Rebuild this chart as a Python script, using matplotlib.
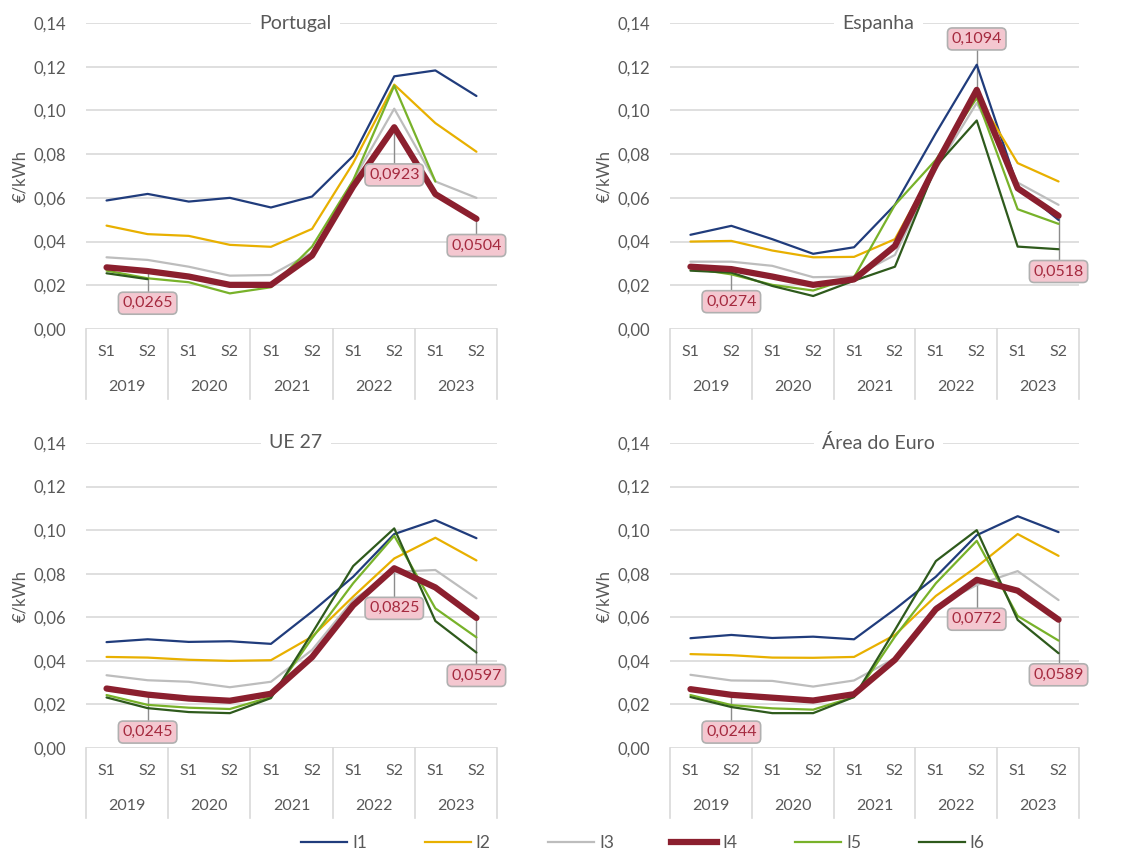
import numpy as np
import matplotlib.pyplot as plt
from matplotlib.transforms import blended_transform_factory

plt.rcParams['font.family'] = ['Lato', 'DejaVu Sans']

W, H = 1122, 851
fig = plt.figure(figsize=(W / 100, H / 100), dpi=100)

nan = np.nan
semesters = ['S1', 'S2'] * 5
years = ['2019', '2020', '2021', '2022', '2023']
series_names = ['I1', 'I2', 'I3', 'I4', 'I5', 'I6']
colors = ['#203c7c', '#e8b000', '#bdbdbd', '#8b1f2e', '#78b22a', '#2e5a1c']
widths = [1.6, 1.6, 1.6, 4.5, 1.6, 1.6]

# Portugal
pt = {
    'I1': [0.0588, 0.0618, 0.0583, 0.0600, 0.0556, 0.0606, 0.0792, 0.1156, 0.1183, 0.1066],
    'I2': [0.0473, 0.0434, 0.0426, 0.0385, 0.0376, 0.0458, 0.0759, 0.1118, 0.0942, 0.0811],
    'I3': [0.0328, 0.0316, 0.0285, 0.0244, 0.0247, 0.0350, 0.0680, 0.1008, 0.0675, 0.0600],
    'I4': [0.0282, 0.0265, 0.0240, 0.0202, 0.0202, 0.0336, 0.0652, 0.0923, 0.0617, 0.0504],
    'I5': [0.0267, 0.0232, 0.0214, 0.0163, 0.0191, 0.0377, 0.0680, 0.1113, 0.0675, nan],
    'I6': [0.0255, 0.0228, nan, nan, nan, nan, nan, nan, nan, nan],
}
# Espanha
es = {
    'I1': [0.0431, 0.0472, 0.0411, 0.0344, 0.0374, 0.0568, 0.0896, 0.1209, 0.0652, 0.0499],
    'I2': [0.0400, 0.0403, 0.0359, 0.0328, 0.0330, 0.0411, 0.0750, 0.1072, 0.0759, 0.0675],
    'I3': [0.0308, 0.0308, 0.0289, 0.0237, 0.0240, 0.0339, 0.0730, 0.1034, 0.0670, 0.0568],
    'I4': [0.0285, 0.0274, 0.0240, 0.0202, 0.0227, 0.0380, 0.0750, 0.1094, 0.0644, 0.0518],
    'I5': [0.0278, 0.0250, 0.0202, 0.0176, 0.0237, 0.0568, 0.0774, 0.1057, 0.0548, 0.0481],
    'I6': [0.0267, 0.0258, 0.0197, 0.0151, 0.0221, 0.0285, 0.0744, 0.0954, 0.0377, 0.0365],
}
# UE 27
ue = {
    'I1': [0.0486, 0.0499, 0.0487, 0.0490, 0.0478, 0.0626, 0.0786, 0.0982, 0.1046, 0.0963],
    'I2': [0.0418, 0.0415, 0.0405, 0.0400, 0.0403, 0.0511, 0.0695, 0.0870, 0.0965, 0.0861],
    'I3': [0.0334, 0.0311, 0.0304, 0.0279, 0.0304, 0.0450, 0.0680, 0.0809, 0.0817, 0.0687],
    'I4': [0.0273, 0.0245, 0.0227, 0.0217, 0.0249, 0.0417, 0.0655, 0.0825, 0.0737, 0.0597],
    'I5': [0.0243, 0.0198, 0.0185, 0.0179, 0.0234, 0.0504, 0.0756, 0.0974, 0.0641, 0.0508],
    'I6': [0.0232, 0.0183, 0.0165, 0.0160, 0.0229, 0.0527, 0.0835, 0.1008, 0.0583, 0.0438],
}
# Área do Euro
ea = {
    'I1': [0.0504, 0.0519, 0.0505, 0.0511, 0.0499, 0.0637, 0.0786, 0.0977, 0.1064, 0.0991],
    'I2': [0.0431, 0.0426, 0.0415, 0.0414, 0.0418, 0.0519, 0.0698, 0.0832, 0.0982, 0.0882],
    'I3': [0.0336, 0.0310, 0.0308, 0.0282, 0.0310, 0.0412, 0.0650, 0.0748, 0.0812, 0.0679],
    'I4': [0.0270, 0.0244, 0.0231, 0.0218, 0.0247, 0.0405, 0.0637, 0.0772, 0.0722, 0.0589],
    'I5': [0.0243, 0.0197, 0.0182, 0.0176, 0.0234, 0.0511, 0.0756, 0.0951, 0.0606, 0.0493],
    'I6': [0.0234, 0.0188, 0.0160, 0.0160, 0.0234, 0.0542, 0.0858, 0.1000, 0.0588, 0.0435],
}

# labelled points of I4: (index, label y position)
pt_labels = [(1, 0.0118), (7, 0.0705), (9, 0.0382)]
es_labels = [(1, 0.0125), (7, 0.1327), (9, 0.0263)]
ue_labels = [(1, 0.0073), (7, 0.0641), (9, 0.0333)]
ea_labels = [(1, 0.0073), (7, 0.0591), (9, 0.0336)]

panels = [
    ('Portugal', pt, pt_labels, (86, 23, 497, 329)),
    ('Espanha', es, es_labels, (670, 23, 1079, 329)),
    ('UE 27', ue, ue_labels, (86, 443, 497, 748)),
    ('Área do Euro', ea, ea_labels, (670, 443, 1079, 748)),
]

txt = '#595959'
grid = '#d9d9d9'


def fmt(v, nd):
    return f'{v:.{nd}f}'.replace('.', ',')


for title, data, labels, (x0, y0, x1, y1) in panels:
    ax = fig.add_axes([x0 / W, 1 - y1 / H, (x1 - x0) / W, (y1 - y0) / H])
    x = np.arange(10)
    for name, c, lw in zip(series_names, colors, widths):
        ax.plot(x, data[name], color=c, lw=lw, solid_capstyle='round',
                solid_joinstyle='round', zorder=3 + (1 if name == 'I4' else 0))
    ax.set_xlim(-0.5, 9.5)
    ax.set_ylim(0, 0.14)
    yt = np.arange(0, 0.141, 0.02)
    ax.set_yticks(yt)
    ax.set_yticklabels([fmt(v, 2) for v in yt])
    ax.tick_params(axis='y', length=0, labelsize=12, labelcolor=txt, pad=14)
    ax.set_xticks([])
    ax.grid(axis='y', color=grid, lw=1.2)
    ax.set_axisbelow(True)
    for s in ['left', 'right', 'top', 'bottom']:
        ax.spines[s].set_visible(False)
    ax.set_ylabel('€/kWh', color=txt, fontsize=12, labelpad=4)

    # category axis
    tr = blended_transform_factory(ax.transData, ax.transAxes)
    for i, s in enumerate(semesters):
        ax.text(i, -0.075, s, transform=tr, ha='center', va='center',
                fontsize=11.5, color=txt)
    for j, yr in enumerate(years):
        ax.text(2 * j + 0.5, -0.19, yr, transform=tr, ha='center', va='center',
                fontsize=11.5, color=txt)
    for b in np.arange(-0.5, 10, 2):
        ax.plot([b, b], [0, -0.228], transform=tr, color=grid, lw=1.2, clip_on=False)

    # title sitting on the top gridline
    ax.text(0.51, 1.0, title, transform=ax.transAxes, ha='center', va='center',
            fontsize=14, color=txt,
            bbox=dict(facecolor='white', edgecolor='none', pad=6))

    # data labels for I4
    for idx, ly in labels:
        v = data['I4'][idx]
        ax.plot([idx, idx], [v, ly], color='#8c8c8c', lw=1, zorder=2)
        ax.text(idx, ly, fmt(v, 4), ha='center', va='center', fontsize=11.5,
                color='#a52a3f', zorder=6,
                bbox=dict(boxstyle='round,pad=0.25,rounding_size=0.3',
                          facecolor='#f4c7d0', edgecolor='#b0b0b0', lw=1.2))

handles = [plt.Line2D([], [], color=c, lw=lw) for c, lw in zip(colors, widths)]
fig.legend(handles, series_names, loc='center', bbox_to_anchor=(0.573, 1 - 843 / H),
           ncol=6, frameon=False, fontsize=12.5, handlelength=2.65,
           columnspacing=3.3, handletextpad=0.3, labelcolor=txt)

fig.savefig('out.png', dpi=100, facecolor='white')
